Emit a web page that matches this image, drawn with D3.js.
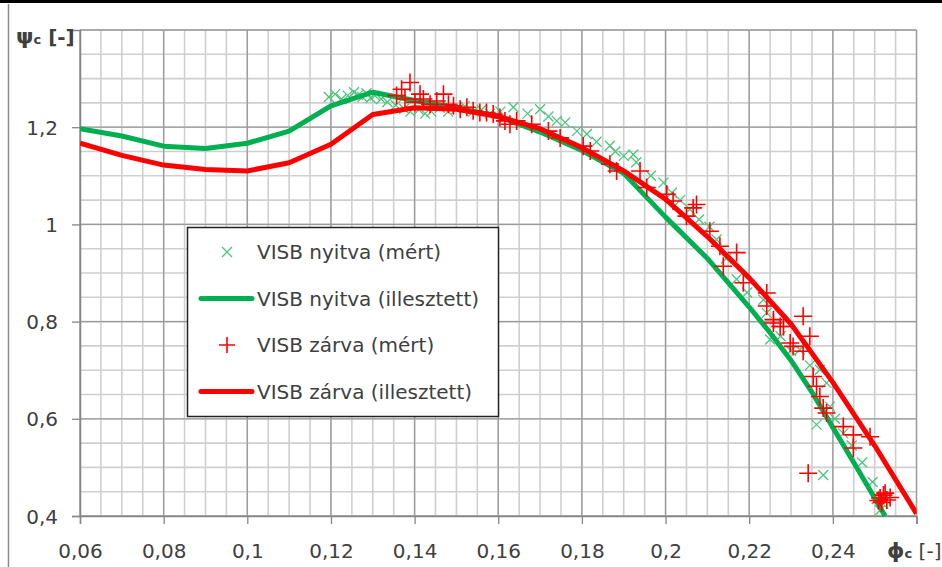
<!DOCTYPE html>
<html>
<head>
<meta charset="utf-8">
<script src="https://cdn.jsdelivr.net/npm/d3@7"></script>
<style>
  body { margin: 0; background: #fff; }
  svg { display: block; font-family: "DejaVu Sans", sans-serif; }
</style>
</head>
<body>
<svg id="chart" width="942" height="567"></svg>
<script>
// measured points, VISB nyitva (green x)
var nyitvaMert = [
  [0.1195,1.262],[0.121,1.268],[0.1225,1.258],[0.124,1.265],[0.1255,1.272],[0.1265,1.266],
  [0.1275,1.262],[0.1285,1.27],[0.1295,1.26],[0.1305,1.265],[0.132,1.258],[0.1335,1.252],
  [0.1355,1.245],[0.1375,1.238],[0.139,1.232],[0.141,1.236],[0.1425,1.228],[0.144,1.232],
  [0.146,1.24],[0.148,1.232],[0.150,1.238],[0.152,1.243],[0.154,1.232],[0.156,1.236],
  [0.158,1.228],[0.1605,1.232],[0.1636,1.241],[0.167,1.228],[0.170,1.237],[0.172,1.222],
  [0.174,1.213],[0.176,1.21],[0.1788,1.192],[0.1812,1.186],[0.1835,1.17],[0.1867,1.162],
  [0.188,1.15],[0.190,1.141],[0.1923,1.144],[0.193,1.128],[0.1965,1.1],[0.1995,1.086],
  [0.2015,1.065],[0.2035,1.05],[0.2058,1.031],[0.208,1.01],[0.2105,0.995],[0.2122,0.969],
  [0.2145,0.93],[0.217,0.887],[0.2195,0.86],[0.2234,0.845],[0.2242,0.818],[0.225,0.763],
  [0.2275,0.77],[0.230,0.74],[0.2321,0.742],[0.2345,0.71],[0.2369,0.701],[0.2385,0.674],
  [0.2393,0.625],[0.2361,0.588],[0.2377,0.4845],[0.2405,0.6],[0.2425,0.57],[0.2445,0.545],
  [0.247,0.51],[0.2495,0.47],[0.2505,0.435],[0.2513,0.412],[0.252,0.425]
];
// fitted curve, VISB nyitva (green line)
var nyitvaPhi = [0.06,0.07,0.08,0.09,0.10,0.11,0.12,0.13,0.14,0.15,0.16,0.17,0.18,0.19,0.20,0.21,0.22,0.225,0.23,0.235,0.24,0.245,0.25,0.2525];
var nyitvaPsi = [1.197,1.182,1.161,1.156,1.167,1.192,1.244,1.272,1.255,1.24,1.222,1.19,1.152,1.105,1.015,0.93,0.83,0.777,0.72,0.655,0.582,0.51,0.437,0.40];

// measured points, VISB zárva (red +)
var zarvaMert = [
  [0.1357,1.265],[0.1369,1.278],[0.1377,1.258],[0.1389,1.292],[0.1401,1.251],[0.1413,1.268],
  [0.1421,1.258],[0.1437,1.247],[0.1453,1.254],[0.1469,1.268],[0.1481,1.247],[0.1493,1.244],
  [0.1509,1.237],[0.1525,1.241],[0.154,1.234],[0.1556,1.23],[0.1572,1.23],[0.1588,1.227],
  [0.1604,1.22],[0.1616,1.213],[0.1628,1.206],[0.1644,1.213],[0.168,1.206],[0.172,1.192],
  [0.1748,1.178],[0.1803,1.161],[0.182,1.151],[0.1867,1.124],[0.1883,1.11],[0.1939,1.11],
  [0.1955,1.076],[0.2003,1.062],[0.2018,1.048],[0.205,1.017],[0.2066,1.034],[0.2074,1.041],
  [0.2106,0.986],[0.213,0.955],[0.217,0.942],[0.2138,0.914],[0.2186,0.88],[0.2242,0.859],
  [0.2242,0.832],[0.2258,0.804],[0.2274,0.79],[0.2329,0.811],[0.2345,0.77],[0.2305,0.749],
  [0.2329,0.739],[0.2258,0.797],[0.2282,0.79],[0.2298,0.756],[0.2353,0.687],[0.2361,0.667],
  [0.2369,0.646],[0.2377,0.622],[0.2385,0.612],[0.2425,0.584],[0.2449,0.567],[0.2489,0.563],
  [0.2449,0.54],[0.2341,0.488],[0.2513,0.437],[0.2521,0.443],[0.2529,0.433],[0.2517,0.428],
  [0.2525,0.447],[0.2537,0.438],[0.2509,0.432]
];
// fitted curve, VISB zárva (red line)
var zarvaPhi = [0.06,0.07,0.08,0.09,0.10,0.11,0.12,0.13,0.14,0.15,0.16,0.17,0.18,0.19,0.20,0.21,0.22,0.23,0.24,0.25,0.26];
var zarvaPsi = [1.167,1.142,1.122,1.113,1.11,1.127,1.165,1.226,1.24,1.237,1.222,1.197,1.158,1.11,1.052,0.975,0.89,0.795,0.675,0.545,0.405];

var legendLabels = ["VISB nyitva (mért)", "VISB nyitva (illesztett)", "VISB zárva (mért)", "VISB zárva (illesztett)"];

var green = "#00b050", greenMark = "#4cc47c", red = "#ff0000", textCol = "#404040";

var svg = d3.select("#chart");
// note: "top" is taken by window.top, so plot edges get their own names
var pLeft = 80, pRight = 916.5, pTop = 30, pBottom = 516;

var x = d3.scaleLinear().domain([0.06, 0.26]).range([pLeft, pRight]);
var y = d3.scaleLinear().domain([0.4, 1.4]).range([pBottom, pTop]);
var loc = d3.formatLocale({decimal: ",", thousands: " ", grouping: [3], currency: ["", ""]});
var fmtX = loc.format(".2~f"), fmtY = loc.format(".1~f");

// chart frame
svg.append("line").attr("x1", 0).attr("x2", 942).attr("y1", 1.5).attr("y2", 1.5)
  .attr("stroke", "#000").attr("stroke-width", 3);
svg.append("line").attr("x1", 8.5).attr("x2", 8.5).attr("y1", 4).attr("y2", 567)
  .attr("stroke", "#8c8c8c").attr("stroke-width", 1.5);

// grid - minor then major
var grid = svg.append("g");
grid.selectAll(".vmin").data(x.ticks(40)).enter().append("line")
  .attr("x1", d => x(d)).attr("x2", d => x(d)).attr("y1", pTop).attr("y2", pBottom)
  .attr("stroke", "#cfcfcf").attr("stroke-width", 1.6);
grid.selectAll(".hmin").data(y.ticks(20)).enter().append("line")
  .attr("y1", d => y(d)).attr("y2", d => y(d)).attr("x1", pLeft).attr("x2", pRight)
  .attr("stroke", "#cfcfcf").attr("stroke-width", 1.6);
grid.selectAll(".vmaj").data(x.ticks(10)).enter().append("line")
  .attr("x1", d => x(d)).attr("x2", d => x(d)).attr("y1", pTop).attr("y2", pBottom)
  .attr("stroke", "#9a9a9a").attr("stroke-width", 1.3);
grid.selectAll(".hmaj").data(y.ticks(5)).enter().append("line")
  .attr("y1", d => y(d)).attr("y2", d => y(d)).attr("x1", pLeft).attr("x2", pRight)
  .attr("stroke", "#9a9a9a").attr("stroke-width", 1.3);

// axes
var xAxis = d3.axisBottom(x).tickValues(x.ticks(10)).tickSize(8).tickFormat(d => d < 0.259 ? fmtX(d) : "");
var gx = svg.append("g").attr("transform", "translate(0," + pBottom + ")").call(xAxis);
gx.select(".domain").attr("stroke", "#868686").attr("stroke-width", 1.5);
gx.selectAll(".tick line").attr("stroke", "#868686").attr("stroke-width", 1.3);
gx.selectAll(".tick text").attr("fill", textCol).style("font-size", "20px")
  .style("font-family", "'DejaVu Sans'").attr("y", 42).attr("dy", 0);

var yAxis = d3.axisLeft(y).tickValues(y.ticks(5).filter(d => d < 1.3)).tickSize(8).tickFormat(fmtY);
var gy = svg.append("g").attr("transform", "translate(" + pLeft + ",0)").call(yAxis);
gy.select(".domain").attr("stroke", "#868686").attr("stroke-width", 1.5);
gy.selectAll(".tick line").attr("stroke", "#868686").attr("stroke-width", 1.3);
gy.selectAll(".tick text").attr("fill", textCol).style("font-size", "20px")
  .style("font-family", "'DejaVu Sans'").attr("x", -22).attr("dy", "0.35em");

// axis titles
var yt = svg.append("text").attr("x", 16).attr("y", 44).attr("fill", textCol).style("font-size", "20px");
yt.append("tspan").text("ψ").style("font-weight", "bold").style("font-size", "22px");
yt.append("tspan").text("c").style("font-weight", "bold").style("font-size", "13px");
yt.append("tspan").text(" [-]").style("font-weight", "bold");

var xt = svg.append("text").attr("x", 887).attr("y", 558).attr("fill", textCol).style("font-size", "20px");
xt.append("tspan").text("ϕ").style("font-weight", "bold").style("font-size", "22px");
xt.append("tspan").text("c").style("font-weight", "bold").style("font-size", "13px");
xt.append("tspan").text(" [-]");

// plot area clip
svg.append("clipPath").attr("id", "plotclip").append("rect")
  .attr("x", pLeft).attr("y", pTop).attr("width", pRight - pLeft).attr("height", pBottom - pTop + 2);
var plot = svg.append("g").attr("clip-path", "url(#plotclip)");

function crossPath(s) { return "M" + (-s) + "," + (-s) + "L" + s + "," + s + "M" + (-s) + "," + s + "L" + s + "," + (-s); }
function plusPath(s) { return "M" + (-s) + ",0L" + s + ",0M0," + (-s) + "L0," + s; }

var line = d3.line().x(d => x(d[0])).y(d => y(d[1]));

// series 1: nyitva mert
plot.selectAll(".nym").data(nyitvaMert).enter().append("path")
  .attr("transform", d => "translate(" + x(d[0]) + "," + y(d[1]) + ")")
  .attr("d", crossPath(5)).attr("stroke", greenMark).attr("stroke-width", 1.3).attr("fill", "none");

// series 2: nyitva illesztett
plot.append("path").datum(d3.zip(nyitvaPhi, nyitvaPsi)).attr("d", line)
  .attr("fill", "none").attr("stroke", green).attr("stroke-width", 5).attr("stroke-linejoin", "round");

// series 3: zarva mert
plot.selectAll(".zam").data(zarvaMert).enter().append("path")
  .attr("transform", d => "translate(" + x(d[0]) + "," + y(d[1]) + ")")
  .attr("d", plusPath(9)).attr("stroke", red).attr("stroke-width", 1.6).attr("fill", "none");

// series 4: zarva illesztett
plot.append("path").datum(d3.zip(zarvaPhi, zarvaPsi)).attr("d", line)
  .attr("fill", "none").attr("stroke", red).attr("stroke-width", 5).attr("stroke-linejoin", "round");

// legend
var lg = svg.append("g");
lg.append("rect").attr("x", 187.5).attr("y", 227.5).attr("width", 311).attr("height", 189)
  .attr("fill", "#fff").attr("stroke", "#222").attr("stroke-width", 1.5);
var ly = [252, 298.5, 345, 391.5];
legendLabels.forEach(function(lbl, i) {
  var g = lg.append("g").attr("transform", "translate(0," + ly[i] + ")");
  if (i == 0) g.append("path").attr("transform", "translate(227,0)").attr("d", crossPath(5))
    .attr("stroke", greenMark).attr("stroke-width", 1.3).attr("fill", "none");
  if (i == 2) g.append("path").attr("transform", "translate(227,0)").attr("d", plusPath(8))
    .attr("stroke", red).attr("stroke-width", 1.6).attr("fill", "none");
  if (i == 1 || i == 3) g.append("line").attr("x1", 201).attr("x2", 252).attr("y1", 0).attr("y2", 0)
    .attr("stroke", i == 1 ? green : red).attr("stroke-width", 5).attr("stroke-linecap", "round");
  g.append("text").attr("x", 257).attr("y", 0).attr("dy", "0.36em").attr("fill", textCol)
    .style("font-size", "20px").text(lbl);
});
</script>
</body>
</html>
